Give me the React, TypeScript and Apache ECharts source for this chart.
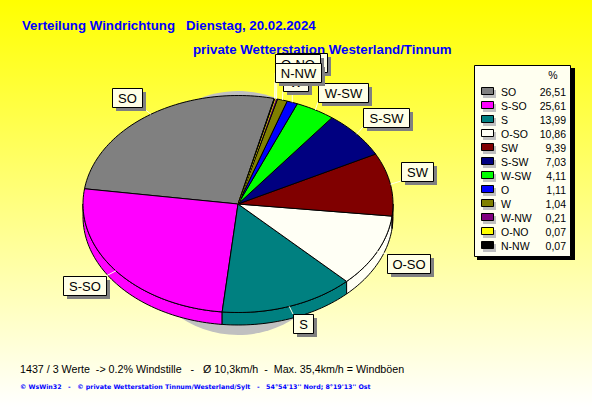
import React, { useEffect, useRef } from "react";
import * as echarts from "echarts";

const directions = ["SO", "S-SO", "S", "O-SO", "SW", "S-SW", "W-SW", "O", "W", "W-NW", "O-NO", "N-NW"];
const percents = [26.51, 25.61, 13.99, 10.86, 9.39, 7.03, 4.11, 1.11, 1.04, 0.21, 0.07, 0.07];
const percentLabels = ["26,51", "25,61", "13,99", "10,86", "9,39", "7,03", "4,11", "1,11", "1,04", "0,21", "0,07", "0,07"];
const colors = ["#808080", "#FF00FF", "#008080", "#FFFFF5", "#800000", "#000080", "#00FF00", "#0000FF", "#808000", "#800080", "#FFFF00", "#000000"];

// label boxes: x, y, width (height is constant)
const labelBoxes: number[][] = [
  [112, 88, 30], [63, 276, 43], [293, 314, 20], [387, 254, 43], [401, 162, 32], [363, 108, 46],
  [318, 83, 50], [284, 72, 24], [283, 72, 25], [277, 53, 50], [275, 54, 45], [275, 63, 46],
];

const titleLine1 = "Verteilung Windrichtung   Dienstag, 20.02.2024";
const titleLine2 = "private Wetterstation Westerland/Tinnum";
const footerLine1 = "1437 / 3 Werte  -> 0.2% Windstille   -   Ø 10,3km/h  -  Max. 35,4km/h = Windböen";
const footerLine2 = "© WsWin32   -   © private Wetterstation Tinnum/Westerland/Sylt   -   54°54'13'' Nord; 8°19'13'' Ost";

const CX = 238, CY = 204, RX = 155, RY = 108.5, DEPTH = 12.5, START = 76.5;
const BOX_H = 19;
const SANS = '"Liberation Sans", Arial, sans-serif';

const pt = (deg: number, dy = 0): number[] => {
  const r = (deg * Math.PI) / 180;
  return [CX + RX * Math.cos(r), CY + dy - RY * Math.sin(r)];
};
const arc = (a: number, b: number, dy = 0): number[][] => {
  const n = Math.max(2, Math.ceil(Math.abs(b - a) / 1.5));
  const out: number[][] = [];
  for (let i = 0; i <= n; i++) out.push(pt(a + ((b - a) * i) / n, dy));
  return out;
};
const bounds = (i: number): number[] => {
  let s = 0;
  for (let k = 0; k < i; k++) s += percents[k];
  const total = percents.reduce((p, c) => p + c, 0);
  return [START + (s / total) * 360, START + ((s + percents[i]) / total) * 360];
};

const renderSlice = (params: any, api: any) => {
  const i = params.dataIndex;
  const [a, b] = bounds(i);
  const children: any[] = [];
  // the yellow sliver is narrower than a line: outline it in its own colour so that it stays visible
  const edge = colors[i] === "#FFFF00" ? "#FFFF00" : "#000";
  const stroke = { stroke: edge, lineWidth: 1, fill: colors[i] };
  for (const [lo, hi] of [[180, 360], [540, 720]]) {
    const p = Math.max(a, lo), q = Math.min(b, hi);
    if (q > p) {
      children.push({
        type: "polygon",
        shape: { points: [...arc(p, q), ...arc(q, p, DEPTH)] },
        style: stroke,
      });
    }
  }
  children.push({
    type: "polygon",
    shape: { points: [[CX, CY], ...arc(a, b)] },
    style: stroke,
  });
  return { type: "group", children };
};

const renderLabel = (params: any, api: any) => {
  const i = params.dataIndex;
  const [a, b] = bounds(i);
  const [x, y, w] = labelBoxes[i];
  const e = pt((a + b) / 2);
  const nx = Math.min(x + w, Math.max(x, e[0]));
  const ny = Math.min(y + BOX_H, Math.max(y, e[1]));
  return {
    type: "group",
    children: [
      { type: "line", shape: { x1: e[0], y1: e[1], x2: nx, y2: ny }, style: { stroke: "#FFFFE8", lineWidth: 1 } },
      { type: "rect", shape: { x: x + 4, y: y + 4, width: w, height: BOX_H }, style: { fill: "#808080" } },
      { type: "rect", shape: { x: x + 0.5, y: y + 0.5, width: w, height: BOX_H }, style: { fill: "#FFFFE6", stroke: "#000", lineWidth: 1 } },
      {
        type: "text",
        style: {
          text: directions[i], x: x + w / 2 + 0.5, y: y + BOX_H / 2 + 1,
          align: "center", verticalAlign: "middle", font: `13px ${SANS}`, fill: "#000",
        },
      },
    ],
  };
};

const legendGraphics = (): any[] => {
  const items: any[] = [
    { type: "rect", shape: { x: 477, y: 68, width: 98, height: 192 }, style: { fill: "#000" } },
    { type: "rect", shape: { x: 474.5, y: 65.5, width: 96, height: 191 }, style: { fill: "#FFFFF0", stroke: "#000", lineWidth: 1 } },
    { type: "text", style: { text: "%", x: 553, y: 75, align: "center", verticalAlign: "middle", font: `10.5px ${SANS}`, fill: "#000" } },
  ];
  directions.forEach((d, i) => {
    const y = 91 + i * 14;
    items.push(
      { type: "rect", shape: { x: 483, y: y - 1, width: 13, height: 8 }, style: { fill: "#C0C0C0" } },
      { type: "rect", shape: { x: 481.5, y: y - 3.5, width: 12, height: 7 }, style: { fill: colors[i], stroke: "#000", lineWidth: 1 } },
      { type: "text", style: { text: d, x: 501, y: y + 0.5, verticalAlign: "middle", font: `10.5px ${SANS}`, fill: "#000" } },
      { type: "text", style: { text: percentLabels[i], x: 566, y: y + 0.5, align: "right", verticalAlign: "middle", font: `10.5px ${SANS}`, fill: "#000" } },
    );
  });
  return items;
};

export default function App() {
  const ref = useRef<HTMLDivElement>(null);
  useEffect(() => {
    const chart = echarts.init(ref.current!, undefined, { renderer: "svg" });
    chart.setOption({
      animation: false,
      backgroundColor: new echarts.graphic.LinearGradient(0, 0, 0, 1, [
        { offset: 0, color: "#FFFF00" },
        { offset: 1, color: "#FFFFFF" },
      ]),
      graphic: [
        { type: "ellipse", z: 0, shape: { cx: CX, cy: 213, rx: 112, ry: 122 }, style: { fill: "#C0C0C0" } },
        { type: "text", z: 1, style: { text: titleLine1, x: 22, y: 25, verticalAlign: "middle", font: `bold 13.25px ${SANS}`, fill: "#0000FF" } },
        { type: "text", z: 1, style: { text: titleLine2, x: 193, y: 49, verticalAlign: "middle", font: `bold 13.3px ${SANS}`, fill: "#0000FF" } },
        { type: "text", z: 1, style: { text: footerLine1, x: 20, y: 369, verticalAlign: "middle", font: `10.7px ${SANS}`, fill: "#000" } },
        { type: "text", z: 1, style: { text: footerLine2, x: 20, y: 386, verticalAlign: "middle", font: `bold 6.3px "DejaVu Sans", sans-serif`, fill: "#0000FF" } },
        { type: "group", z: 20, children: legendGraphics() },
      ],
      series: [
        {
          type: "custom", coordinateSystem: "none", silent: true, z: 5,
          data: percents.map((v, i) => ({ name: directions[i], value: [v] })),
          renderItem: renderSlice,
        },
        {
          type: "custom", coordinateSystem: "none", silent: true, z: 6,
          data: percents.map((v, i) => ({ name: directions[i], value: [v] })),
          renderItem: renderLabel,
        },
      ],
    });
    return () => chart.dispose();
  }, []);
  return <div ref={ref} style={{ position: "fixed", left: 0, top: 0, width: 592, height: 407 }} />;
}
